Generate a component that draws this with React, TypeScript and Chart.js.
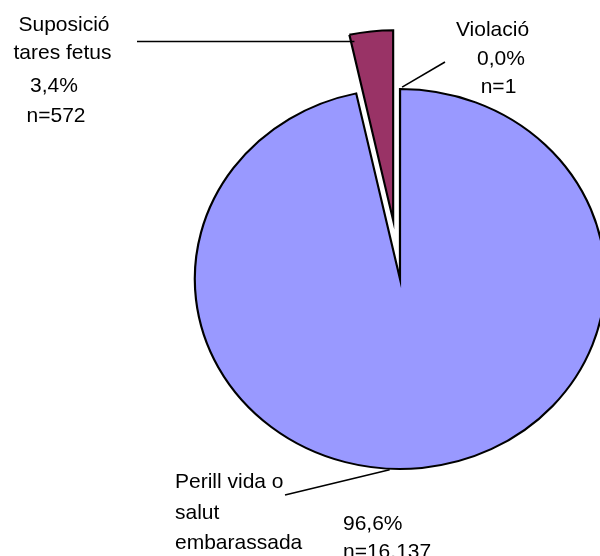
import React, { useEffect, useRef } from 'react';
import { Chart, registerables } from 'chart.js';

Chart.register(...registerables);

// ---- data ----
const categories = ['Violació', 'Perill vida o salut embarassada', 'Suposició tares fetus'];
const counts = [1, 16137, 572];
const labelLines = [['Violació'], ['Perill vida o', 'salut', 'embarassada'], ['Suposició', 'tares fetus']];
const sliceColors = ['#FFFFCC', '#9999FF', '#993366'];
const explodePx = [0, 0, 59];

const total = counts.reduce((a, b) => a + b, 0);
const pctText = (c: number) => (c / total * 100).toFixed(1).replace('.', ',') + '%';
const nText = (c: number) => 'n=' + String(c).replace(/\B(?=(\d{3})+(?!\d))/g, '.');

// ---- layout (styles / positions of the labels) ----
const SX = 1.08; // horizontal stretch of the pie
const FONT = '21px "Liberation Sans", Arial, sans-serif';
type TextPos = { x: number; y: number; align: CanvasTextAlign };
const textLayout: TextPos[][] = [
  [{ x: 492.5, y: 36, align: 'center' }, { x: 501, y: 65, align: 'center' }, { x: 498.5, y: 93, align: 'center' }],
  [
    { x: 175, y: 488, align: 'left' }, { x: 175, y: 519, align: 'left' }, { x: 175, y: 549, align: 'left' },
    { x: 343, y: 530, align: 'left' }, { x: 343, y: 558, align: 'left' },
  ],
  [{ x: 64, y: 31, align: 'center' }, { x: 62.5, y: 59, align: 'center' }, { x: 54, y: 92, align: 'center' }, { x: 56, y: 122, align: 'center' }],
];
const leaders = [
  { sx: 445, sy: 62, frac: 0.5, angAdd: 0.01, rf: 1.01, horizontal: false },
  { sx: 285, sy: 495, frac: 0.526, angAdd: 0, rf: 1.005, horizontal: false },
  { sx: 137, sy: 0, frac: 0.08, angAdd: 0, rf: 0.96, horizontal: true },
];

function arcShift(arc: any, i: number) {
  const half = (arc.startAngle + arc.endAngle) / 2;
  const t = explodePx[i] || 0;
  return { dx: Math.cos(half) * t, dy: Math.sin(half) * t };
}

const piePlugin = {
  id: 'ellipsePie',
  beforeDatasetsDraw(chart: any) {
    const meta = chart.getDatasetMeta(0);
    const ctx = chart.ctx;
    const c = meta.data[0];
    ctx.save();
    ctx.translate(c.x, c.y);
    ctx.scale(SX, 1);
    ctx.translate(-c.x, -c.y);
    meta.data.forEach((arc: any, i: number) => {
      const sh = arcShift(arc, i);
      ctx.save();
      ctx.translate(sh.dx, sh.dy);
      arc.draw(ctx);
      ctx.restore();
    });
    ctx.restore();
    return false;
  },
};

const labelPlugin = {
  id: 'pieLabels',
  afterDraw(chart: any) {
    const ctx: CanvasRenderingContext2D = chart.ctx;
    const meta = chart.getDatasetMeta(0);
    ctx.save();
    ctx.strokeStyle = '#000';
    ctx.lineWidth = 1.6;
    ctx.fillStyle = '#000';
    ctx.font = FONT;
    ctx.textBaseline = 'alphabetic';
    meta.data.forEach((arc: any, i: number) => {
      const sh = arcShift(arc, i);
      const cx = arc.x + sh.dx * SX;
      const cy = arc.y + sh.dy;
      const L = leaders[i];
      const a = arc.startAngle + L.frac * (arc.endAngle - arc.startAngle) + L.angAdd;
      const r = arc.outerRadius * L.rf;
      const ex = cx + Math.cos(a) * r * SX;
      const ey = cy + Math.sin(a) * r;
      ctx.beginPath();
      ctx.moveTo(L.sx, L.horizontal ? ey : L.sy);
      ctx.lineTo(ex, ey);
      ctx.stroke();

      const texts = [...labelLines[i], pctText(counts[i]), nText(counts[i])];
      texts.forEach((t, j) => {
        const p = textLayout[i][j];
        ctx.textAlign = p.align;
        ctx.fillText(t, p.x, p.y);
      });
    });
    ctx.restore();
  },
};

export default function App() {
  const ref = useRef<HTMLCanvasElement>(null);
  useEffect(() => {
    if (!ref.current) return;
    const chart = new Chart(ref.current, {
      type: 'pie',
      data: {
        labels: categories,
        datasets: [
          {
            data: counts,
            backgroundColor: sliceColors,
            borderColor: '#000000',
            borderWidth: 2,
            borderJoinStyle: 'miter',
            radius: 190,
          } as any,
        ],
      },
      options: {
        responsive: false,
        animation: false,
        events: [],
        layout: { padding: { left: 200, top: 2, right: 0, bottom: 0 } },
        plugins: {
          legend: { display: false },
          tooltip: { enabled: false },
        },
      },
      plugins: [piePlugin, labelPlugin],
    });
    return () => chart.destroy();
  }, []);
  return (
    <div style={{ position: 'absolute', left: 0, top: 0, width: 600, height: 556, background: '#fff' }}>
      <canvas ref={ref} width={600} height={556} style={{ display: 'block' }} />
    </div>
  );
}
